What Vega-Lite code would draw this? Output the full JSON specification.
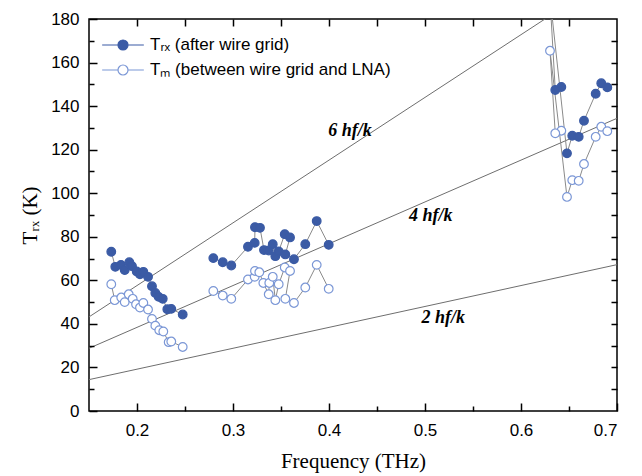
{
  "$schema": "https://vega.github.io/schema/vega-lite/v6.json",
  "width": 528,
  "height": 392,
  "autosize": {"type": "none"},
  "padding": {"left": 89, "top": 19, "right": 25, "bottom": 65},
  "background": "white",
  "config": {
    "font": "Liberation Sans",
    "view": {"stroke": "#000", "strokeWidth": 1.5},
    "axis": {
      "domain": false, "grid": false,
      "labelFont": "Liberation Sans", "labelFontSize": 17, "labelColor": "#000",
      "tickColor": "#000", "tickWidth": 1.5, "ticks": true,
      "titleFont": "Liberation Serif", "titleFontSize": 21, "titleFontWeight": "normal", "titleColor": "#000"
    }
  },
  "datasets": {
    "ref": [
      {"n": "2", "f": 0.15, "t": 14.4}, {"n": "2", "f": 0.7, "t": 67.2},
      {"n": "4", "f": 0.15, "t": 28.8}, {"n": "4", "f": 0.7, "t": 134.4},
      {"n": "6", "f": 0.15, "t": 43.2}, {"n": "6", "f": 0.7, "t": 201.6}
    ],
    "labs": [
      {"lab": "6 hf/k", "f": 0.4219, "t": 128.4},
      {"lab": "4 hf/k", "f": 0.506, "t": 89.5},
      {"lab": "2 hf/k", "f": 0.519, "t": 42.5}
    ],
    "meas": [
      {"s": "Tᵣₓ (after wire grid)", "seg": "a1", "o": 1, "f": 0.1732, "t": 73.1},
      {"s": "Tᵣₓ (after wire grid)", "seg": "a1", "o": 2, "f": 0.1774, "t": 66.2},
      {"s": "Tᵣₓ (after wire grid)", "seg": "a1", "o": 3, "f": 0.1833, "t": 67.1},
      {"s": "Tᵣₓ (after wire grid)", "seg": "a1", "o": 4, "f": 0.1872, "t": 64.7},
      {"s": "Tᵣₓ (after wire grid)", "seg": "a1", "o": 5, "f": 0.1920, "t": 68.3},
      {"s": "Tᵣₓ (after wire grid)", "seg": "a1", "o": 6, "f": 0.1948, "t": 66.5},
      {"s": "Tᵣₓ (after wire grid)", "seg": "a1", "o": 7, "f": 0.1997, "t": 64.1},
      {"s": "Tᵣₓ (after wire grid)", "seg": "a1", "o": 8, "f": 0.2031, "t": 62.8},
      {"s": "Tᵣₓ (after wire grid)", "seg": "a1", "o": 9, "f": 0.2066, "t": 63.9},
      {"s": "Tᵣₓ (after wire grid)", "seg": "a1", "o": 10, "f": 0.2115, "t": 61.6},
      {"s": "Tᵣₓ (after wire grid)", "seg": "a1", "o": 11, "f": 0.2156, "t": 57.3},
      {"s": "Tᵣₓ (after wire grid)", "seg": "a1", "o": 12, "f": 0.2191, "t": 54.2},
      {"s": "Tᵣₓ (after wire grid)", "seg": "a1", "o": 13, "f": 0.2226, "t": 52.4},
      {"s": "Tᵣₓ (after wire grid)", "seg": "a1", "o": 14, "f": 0.2268, "t": 51.5},
      {"s": "Tᵣₓ (after wire grid)", "seg": "a1", "o": 15, "f": 0.2316, "t": 46.7},
      {"s": "Tᵣₓ (after wire grid)", "seg": "a1", "o": 16, "f": 0.2357, "t": 46.9},
      {"s": "Tᵣₓ (after wire grid)", "seg": "a1", "o": 17, "f": 0.2476, "t": 44.3},
      {"s": "Tᵣₓ (after wire grid)", "seg": "a2", "o": 1, "f": 0.2795, "t": 70.2},
      {"s": "Tᵣₓ (after wire grid)", "seg": "a2", "o": 2, "f": 0.2893, "t": 68.3},
      {"s": "Tᵣₓ (after wire grid)", "seg": "a2", "o": 3, "f": 0.2982, "t": 66.8},
      {"s": "Tᵣₓ (after wire grid)", "seg": "a2", "o": 4, "f": 0.3156, "t": 75.4},
      {"s": "Tᵣₓ (after wire grid)", "seg": "a2", "o": 5, "f": 0.3226, "t": 77.2},
      {"s": "Tᵣₓ (after wire grid)", "seg": "a2", "o": 6, "f": 0.3229, "t": 84.4},
      {"s": "Tᵣₓ (after wire grid)", "seg": "a2", "o": 7, "f": 0.3281, "t": 84.1},
      {"s": "Tᵣₓ (after wire grid)", "seg": "a2", "o": 8, "f": 0.3323, "t": 73.9},
      {"s": "Tᵣₓ (after wire grid)", "seg": "a2", "o": 9, "f": 0.3372, "t": 73.7},
      {"s": "Tᵣₓ (after wire grid)", "seg": "a2", "o": 10, "f": 0.3414, "t": 76.6},
      {"s": "Tᵣₓ (after wire grid)", "seg": "a2", "o": 11, "f": 0.3441, "t": 71.1},
      {"s": "Tᵣₓ (after wire grid)", "seg": "a2", "o": 12, "f": 0.3476, "t": 73.3},
      {"s": "Tᵣₓ (after wire grid)", "seg": "a2", "o": 13, "f": 0.3539, "t": 81.2},
      {"s": "Tᵣₓ (after wire grid)", "seg": "a2", "o": 14, "f": 0.3594, "t": 79.7},
      {"s": "Tᵣₓ (after wire grid)", "seg": "a2", "o": 15, "f": 0.3545, "t": 71.9},
      {"s": "Tᵣₓ (after wire grid)", "seg": "a2", "o": 16, "f": 0.3635, "t": 69.7},
      {"s": "Tᵣₓ (after wire grid)", "seg": "a2", "o": 17, "f": 0.3753, "t": 76.6},
      {"s": "Tᵣₓ (after wire grid)", "seg": "a2", "o": 18, "f": 0.3872, "t": 87.2},
      {"s": "Tᵣₓ (after wire grid)", "seg": "a2", "o": 19, "f": 0.3997, "t": 76.3},
      {"s": "Tᵣₓ (after wire grid)", "seg": "a3", "o": 1, "f": 0.6420, "t": 148.8},
      {"s": "Tᵣₓ (after wire grid)", "seg": "a3", "o": 2, "f": 0.6357, "t": 147.4},
      {"s": "Tᵣₓ (after wire grid)", "seg": "a3", "o": 3, "f": 0.6300, "t": 191},
      {"s": "Tᵣₓ (after wire grid)", "seg": "a3", "o": 4, "f": 0.6479, "t": 118.3},
      {"s": "Tᵣₓ (after wire grid)", "seg": "a3", "o": 5, "f": 0.6534, "t": 126.4},
      {"s": "Tᵣₓ (after wire grid)", "seg": "a3", "o": 6, "f": 0.6601, "t": 125.9},
      {"s": "Tᵣₓ (after wire grid)", "seg": "a3", "o": 7, "f": 0.6656, "t": 133.3},
      {"s": "Tᵣₓ (after wire grid)", "seg": "a3", "o": 8, "f": 0.6778, "t": 145.7},
      {"s": "Tᵣₓ (after wire grid)", "seg": "a3", "o": 9, "f": 0.6836, "t": 150.5},
      {"s": "Tᵣₓ (after wire grid)", "seg": "a3", "o": 10, "f": 0.6899, "t": 148.6},
      {"s": "Tₘ (between wire grid and LNA)", "seg": "b1", "o": 1, "f": 0.1732, "t": 58.2},
      {"s": "Tₘ (between wire grid and LNA)", "seg": "b1", "o": 2, "f": 0.1768, "t": 50.9},
      {"s": "Tₘ (between wire grid and LNA)", "seg": "b1", "o": 3, "f": 0.1836, "t": 52.1},
      {"s": "Tₘ (between wire grid and LNA)", "seg": "b1", "o": 4, "f": 0.1872, "t": 50.0},
      {"s": "Tₘ (between wire grid and LNA)", "seg": "b1", "o": 5, "f": 0.1914, "t": 53.6},
      {"s": "Tₘ (between wire grid and LNA)", "seg": "b1", "o": 6, "f": 0.1955, "t": 51.5},
      {"s": "Tₘ (between wire grid and LNA)", "seg": "b1", "o": 7, "f": 0.1990, "t": 49.0},
      {"s": "Tₘ (between wire grid and LNA)", "seg": "b1", "o": 8, "f": 0.2031, "t": 47.5},
      {"s": "Tₘ (between wire grid and LNA)", "seg": "b1", "o": 9, "f": 0.2066, "t": 49.6},
      {"s": "Tₘ (between wire grid and LNA)", "seg": "b1", "o": 10, "f": 0.2115, "t": 46.6},
      {"s": "Tₘ (between wire grid and LNA)", "seg": "b1", "o": 11, "f": 0.2156, "t": 42.3},
      {"s": "Tₘ (between wire grid and LNA)", "seg": "b1", "o": 12, "f": 0.2191, "t": 39.2},
      {"s": "Tₘ (between wire grid and LNA)", "seg": "b1", "o": 13, "f": 0.2232, "t": 37.1},
      {"s": "Tₘ (between wire grid and LNA)", "seg": "b1", "o": 14, "f": 0.2274, "t": 36.5},
      {"s": "Tₘ (between wire grid and LNA)", "seg": "b1", "o": 15, "f": 0.2330, "t": 31.6},
      {"s": "Tₘ (between wire grid and LNA)", "seg": "b1", "o": 16, "f": 0.2357, "t": 31.9},
      {"s": "Tₘ (between wire grid and LNA)", "seg": "b1", "o": 17, "f": 0.2476, "t": 29.4},
      {"s": "Tₘ (between wire grid and LNA)", "seg": "b2", "o": 1, "f": 0.2795, "t": 55.1},
      {"s": "Tₘ (between wire grid and LNA)", "seg": "b2", "o": 2, "f": 0.2893, "t": 53.0},
      {"s": "Tₘ (between wire grid and LNA)", "seg": "b2", "o": 3, "f": 0.2982, "t": 51.5},
      {"s": "Tₘ (between wire grid and LNA)", "seg": "b2", "o": 4, "f": 0.3156, "t": 60.4},
      {"s": "Tₘ (between wire grid and LNA)", "seg": "b2", "o": 5, "f": 0.3226, "t": 61.6},
      {"s": "Tₘ (between wire grid and LNA)", "seg": "b2", "o": 6, "f": 0.3229, "t": 64.3},
      {"s": "Tₘ (between wire grid and LNA)", "seg": "b2", "o": 7, "f": 0.3274, "t": 63.7},
      {"s": "Tₘ (between wire grid and LNA)", "seg": "b2", "o": 8, "f": 0.3316, "t": 58.8},
      {"s": "Tₘ (between wire grid and LNA)", "seg": "b2", "o": 9, "f": 0.3372, "t": 53.6},
      {"s": "Tₘ (between wire grid and LNA)", "seg": "b2", "o": 10, "f": 0.3378, "t": 58.8},
      {"s": "Tₘ (between wire grid and LNA)", "seg": "b2", "o": 11, "f": 0.3414, "t": 61.6},
      {"s": "Tₘ (between wire grid and LNA)", "seg": "b2", "o": 12, "f": 0.3441, "t": 50.9},
      {"s": "Tₘ (between wire grid and LNA)", "seg": "b2", "o": 13, "f": 0.3476, "t": 58.2},
      {"s": "Tₘ (between wire grid and LNA)", "seg": "b2", "o": 14, "f": 0.3539, "t": 65.9},
      {"s": "Tₘ (between wire grid and LNA)", "seg": "b2", "o": 15, "f": 0.3594, "t": 64.3},
      {"s": "Tₘ (between wire grid and LNA)", "seg": "b2", "o": 16, "f": 0.3545, "t": 51.5},
      {"s": "Tₘ (between wire grid and LNA)", "seg": "b2", "o": 17, "f": 0.3635, "t": 49.6},
      {"s": "Tₘ (between wire grid and LNA)", "seg": "b2", "o": 18, "f": 0.3753, "t": 56.7},
      {"s": "Tₘ (between wire grid and LNA)", "seg": "b2", "o": 19, "f": 0.3872, "t": 67.1},
      {"s": "Tₘ (between wire grid and LNA)", "seg": "b2", "o": 20, "f": 0.3997, "t": 56.1},
      {"s": "Tₘ (between wire grid and LNA)", "seg": "b3", "o": 1, "f": 0.6420, "t": 128.7},
      {"s": "Tₘ (between wire grid and LNA)", "seg": "b3", "o": 2, "f": 0.6357, "t": 127.5},
      {"s": "Tₘ (between wire grid and LNA)", "seg": "b3", "o": 3, "f": 0.6302, "t": 165.4},
      {"s": "Tₘ (between wire grid and LNA)", "seg": "b3", "o": 4, "f": 0.6479, "t": 98.3},
      {"s": "Tₘ (between wire grid and LNA)", "seg": "b3", "o": 5, "f": 0.6534, "t": 106.0},
      {"s": "Tₘ (between wire grid and LNA)", "seg": "b3", "o": 6, "f": 0.6601, "t": 105.7},
      {"s": "Tₘ (between wire grid and LNA)", "seg": "b3", "o": 7, "f": 0.6656, "t": 113.4},
      {"s": "Tₘ (between wire grid and LNA)", "seg": "b3", "o": 8, "f": 0.6778, "t": 125.9},
      {"s": "Tₘ (between wire grid and LNA)", "seg": "b3", "o": 9, "f": 0.6836, "t": 130.5},
      {"s": "Tₘ (between wire grid and LNA)", "seg": "b3", "o": 10, "f": 0.6899, "t": 128.5}
    ]
  },
  "resolve": {"axis": {"x": "independent", "y": "independent"}},
  "layer": [
    {
      "data": {"name": "ref"},
      "mark": {"type": "line", "color": "#6e6e6e", "strokeWidth": 1, "clip": true},
      "encoding": {
        "x": {"field": "f", "type": "quantitative", "scale": {"domain": [0.15, 0.7], "nice": false, "zero": false},
              "axis": {"orient": "bottom", "ticks": true, "tickSize": 8, "offset": -8, "values": [0.2, 0.3, 0.4, 0.5, 0.6, 0.7], "format": ".1f", "labelPadding": 11, "title": "Frequency (THz)", "titlePadding": 12, "zindex": 1}},
        "y": {"field": "t", "type": "quantitative", "scale": {"domain": [0, 180], "nice": false, "zero": true},
              "axis": {"orient": "left", "ticks": true, "tickSize": 8, "offset": -8, "values": [0, 20, 40, 60, 80, 100, 120, 140, 160, 180], "format": "d", "labelPadding": 10, "title": "Tᵣₓ (K)", "titlePadding": 10, "zindex": 1}},
        "detail": {"field": "n"}
      }
    },
    {
      "data": {"name": "labs"},
      "mark": {"type": "text", "font": "Liberation Serif", "fontSize": 18, "fontWeight": "bold", "fontStyle": "italic", "align": "center", "baseline": "middle", "color": "#000"},
      "encoding": {
        "x": {"field": "f", "type": "quantitative", "scale": {"domain": [0.15, 0.7], "nice": false, "zero": false},
              "axis": {"orient": "top", "labels": false, "ticks": true, "offset": -7, "tickSize": 7, "values": [0.2, 0.25, 0.3, 0.35, 0.4, 0.45, 0.5, 0.55, 0.6, 0.65], "title": null, "zindex": 1}},
        "y": {"field": "t", "type": "quantitative", "scale": {"domain": [0, 180], "nice": false, "zero": true},
              "axis": {"orient": "right", "labels": false, "ticks": true, "offset": -6, "tickSize": 6, "values": [10, 20, 30, 40, 50, 60, 70, 80, 90, 100, 110, 120, 130, 140, 150, 160, 170], "title": null, "zindex": 1}},
        "text": {"field": "lab"}
      }
    },
    {
      "data": {"name": "meas"},
      "mark": {"type": "line", "color": "#8a8a8a", "strokeWidth": 1, "clip": true},
      "encoding": {
        "x": {"field": "f", "type": "quantitative", "scale": {"domain": [0.15, 0.7], "nice": false, "zero": false},
              "axis": {"orient": "bottom", "labels": false, "ticks": true, "offset": -5, "tickSize": 5, "values": [0.25, 0.35, 0.45, 0.55, 0.65], "title": null, "zindex": 1}},
        "y": {"field": "t", "type": "quantitative", "scale": {"domain": [0, 180], "nice": false, "zero": true},
              "axis": {"orient": "left", "labels": false, "ticks": true, "offset": -5, "tickSize": 5, "values": [10, 30, 50, 70, 90, 110, 130, 150, 170], "title": null, "zindex": 1}},
        "detail": {"field": "seg"},
        "order": {"field": "o", "type": "quantitative"}
      }
    },
    {
      "data": {"name": "meas"},
      "mark": {"type": "point", "shape": "circle", "filled": false, "size": 75, "strokeWidth": 1.2, "opacity": 1, "clip": true},
      "encoding": {
        "x": {"field": "f", "type": "quantitative", "scale": {"domain": [0.15, 0.7], "nice": false, "zero": false}, "axis": null},
        "y": {"field": "t", "type": "quantitative", "scale": {"domain": [0, 180], "nice": false, "zero": true}, "axis": null},
        "fill": {"field": "s", "type": "nominal",
                 "scale": {"domain": ["Tᵣₓ (after wire grid)", "Tₘ (between wire grid and LNA)"], "range": ["#3b5ba5", "#ffffff"]},
                 "legend": {"orient": "none", "legendX": 25, "legendY": 17, "title": null, "padding": 0,
                            "symbolType": "M-2.5,0H-0.6M0.6,0H2.5M-0.6,0A0.6,0.6 0 1,1 0.6,0A0.6,0.6 0 1,1 -0.6,0Z",
                            "symbolSize": 278, "symbolStrokeWidth": 1.2, "labelFont": "Liberation Sans", "labelFontSize": 17, "labelColor": "#000",
                            "labelOffset": 18, "rowPadding": 8, "labelLimit": 400}},
        "stroke": {"field": "s", "type": "nominal",
                   "scale": {"domain": ["Tᵣₓ (after wire grid)", "Tₘ (between wire grid and LNA)"], "range": ["#3b5ba5", "#7b97d6"]},
                   "legend": {"orient": "none", "legendX": 25, "legendY": 17, "title": null, "padding": 0,
                            "symbolType": "M-2.5,0H-0.6M0.6,0H2.5M-0.6,0A0.6,0.6 0 1,1 0.6,0A0.6,0.6 0 1,1 -0.6,0Z",
                            "symbolSize": 278, "symbolStrokeWidth": 1.2, "labelFont": "Liberation Sans", "labelFontSize": 17, "labelColor": "#000",
                            "labelOffset": 18, "rowPadding": 8, "labelLimit": 400}}
      }
    }
  ]
}
